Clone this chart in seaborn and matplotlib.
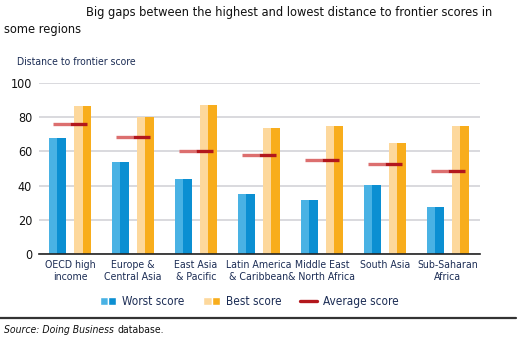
import matplotlib
matplotlib.use("Agg")
import matplotlib.pyplot as plt
import seaborn as sns
import pandas as pd
import numpy as np
from matplotlib.patches import Rectangle, Patch
from matplotlib.lines import Line2D
from matplotlib.legend_handler import HandlerTuple

regions = ["OECD high\nincome", "Europe &\nCentral Asia", "East Asia\n& Pacific",
           "Latin America\n& Caribbean", "Middle East\n& North Africa", "South Asia",
           "Sub-Saharan\nAfrica"]
worst = [68, 54, 44, 35.3, 31.4, 40.2, 27.4]
best = [86.6, 79.8, 87.2, 73.4, 74.8, 65, 74.8]
average = [75.9, 68.4, 60.4, 57.7, 55.1, 52.6, 48.5]
series = ["Worst score", "Best score", "Average score"]
y_ticks = [0, 20, 40, 60, 80, 100]

blue_dark, blue_light = "#0b8fd2", "#49b2e4"
orange_dark, orange_light = "#f8ad1c", "#fdd89c"
red_dark, red_light = "#b3171c", "#dc6f6f"
navy = "#1c2d55"

sns.set_theme(style="white")
plt.rcParams["font.family"] = ["DejaVu Sans"]
plt.rcParams["font.stretch"] = "condensed"

df = pd.DataFrame({
    "region": regions * 2,
    "score": worst + best,
    "series": [series[0]] * len(regions) + [series[1]] * len(regions),
})

fig = plt.figure(figsize=(5.21, 3.40), dpi=100)
ax = fig.add_axes([0.075, 0.252, 0.846, 0.505])

sns.barplot(data=df, x="region", y="score", hue="series", order=regions,
            hue_order=series[:2], palette=[blue_dark, orange_dark], saturation=1,
            width=0.8, gap=0.33, legend=False, ax=ax, zorder=3,
            linewidth=0, edgecolor="none")

# lighter left half on each bar (gradient look)
for cont, light in zip(ax.containers, [blue_light, orange_light]):
    for p in cont.patches:
        ax.add_patch(Rectangle((p.get_x(), p.get_y()), p.get_width() * 0.5, p.get_height(),
                               facecolor=light, edgecolor="none", linewidth=0, zorder=4))

# average markers
xs = np.arange(len(regions))
half = 0.27
ax.hlines(average, xs - half, xs, colors=red_light, linewidth=2.4, zorder=5)
ax.hlines(average, xs, xs + half, colors=red_dark, linewidth=2.4, zorder=5)

ax.set_xlim(-0.49, 6.51)
ax.set_ylim(0, 100)
ax.set_yticks(y_ticks)
ax.set_yticklabels([str(t) for t in y_ticks], fontsize=9, color="#111111")
ax.tick_params(axis="y", length=0, pad=5)
ax.tick_params(axis="x", length=0, pad=4)
ax.set_xticks(xs)
ax.set_xticklabels(regions, fontsize=7.6, color=navy, linespacing=1.25)
ax.set_xlabel("")
ax.set_ylabel("")
ax.grid(axis="y", color="#cfcfd4", linewidth=1.1, zorder=0)
for s in ["left", "right", "top"]:
    ax.spines[s].set_visible(False)
ax.spines["bottom"].set_color("#222222")
ax.spines["bottom"].set_linewidth(1.2)
ax.spines["bottom"].set_zorder(6)

# legend
h_worst = (Patch(facecolor=blue_light), Patch(facecolor=blue_dark))
h_best = (Patch(facecolor=orange_light), Patch(facecolor=orange_dark))
h_avg = Line2D([0], [0], color=red_dark, linewidth=2.4)
fig.legend([h_worst, h_best, h_avg], series, loc="center", bbox_to_anchor=(0.478, 0.113),
           ncol=3, frameon=False, fontsize=8.5, handler_map={tuple: HandlerTuple(ndivide=None, pad=0)},
           handlelength=1.4, handleheight=0.7, columnspacing=1.6, handletextpad=0.5,
           labelcolor=navy)

# titles
fig.text(0.165, 0.962, "Big gaps between the highest and lowest distance to frontier scores in",
         fontsize=9.2, color="#111111", va="center", ha="left")
fig.text(0.008, 0.912, "some regions", fontsize=9.2, color="#111111", va="center", ha="left")
fig.text(0.033, 0.818, "Distance to frontier score", fontsize=7.5, color=navy, va="center", ha="left")

# separator and source
fig.add_artist(Line2D([0.0, 0.99], [0.065, 0.065], color="#333333", linewidth=1.6))
t1 = fig.text(0.008, 0.028, "Source: Doing Business", fontsize=7.5, style="italic",
              color="#111111", va="center")
fig.canvas.draw()
bb = t1.get_window_extent()
fig.text(bb.x1 / fig.bbox.width + 0.006, 0.028, "database.", fontsize=7.5, color="#111111", va="center")

fig.savefig("out.png", dpi=100, facecolor="white")
